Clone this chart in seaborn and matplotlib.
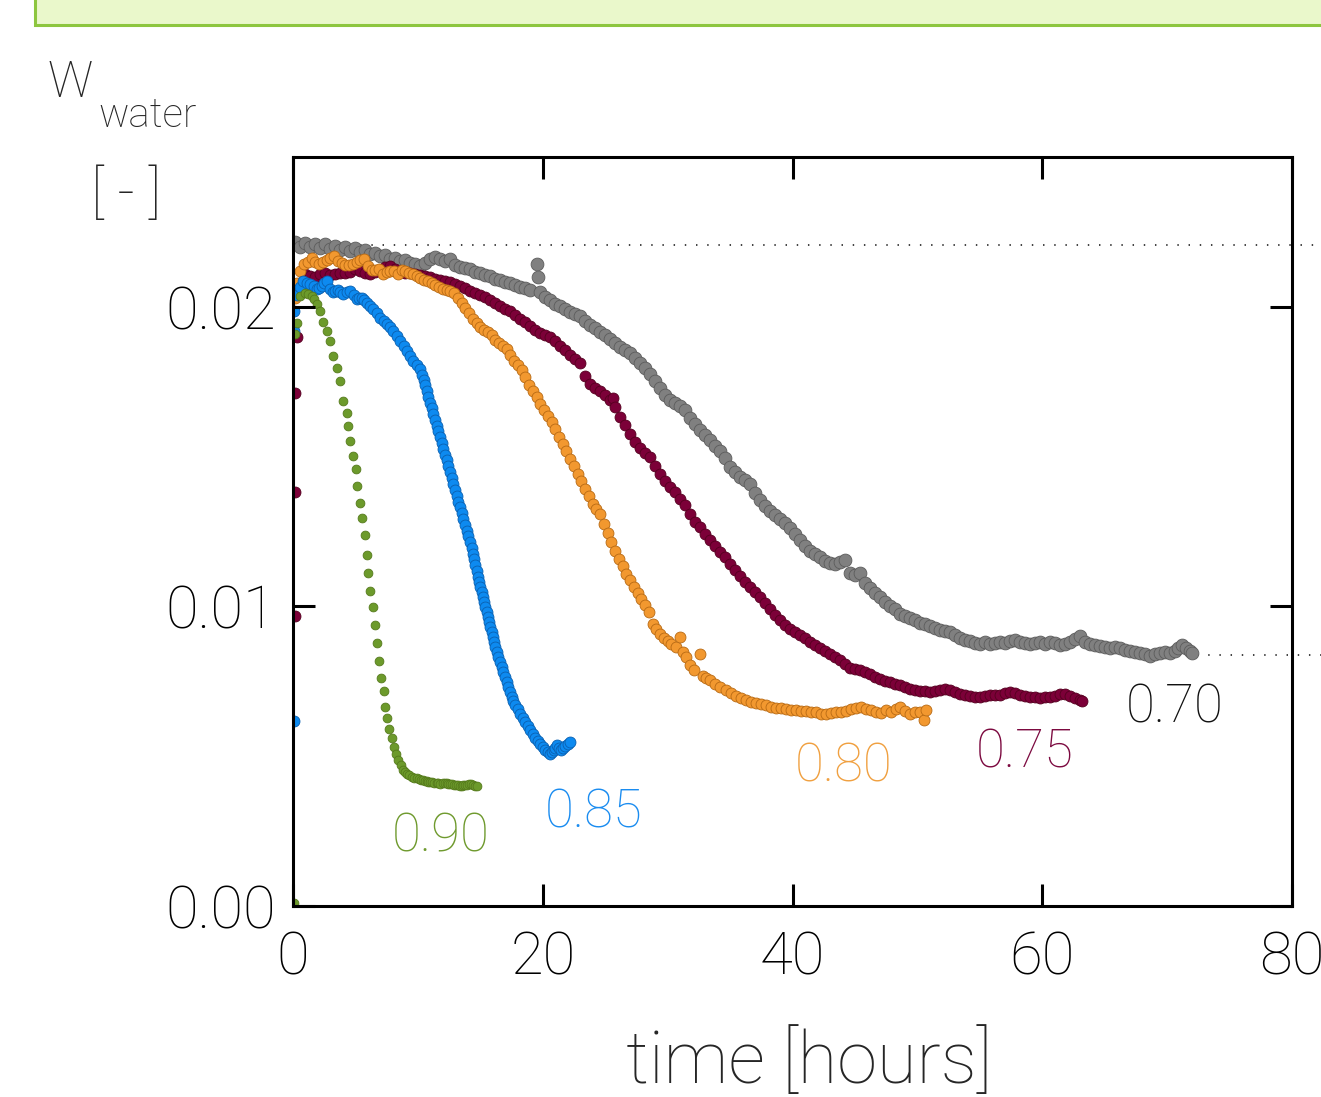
import numpy as np
import pandas as pd
import matplotlib
matplotlib.use("Agg")
import matplotlib.pyplot as plt
from matplotlib.patches import Rectangle
import seaborn as sns

# drying curves: (time [h], w_water [-]), one list per humidity
rh_070 = [(0.2, .02215), (0.6, .02200), (1.0, .02212), (1.4, .02198), (1.8, .02208), (2.2, .02196),
          (2.6, .02210), (3.0, .02192), (3.4, .02204), (3.8, .02188), (4.2, .02200), (4.6, .02186),
          (5.0, .02196), (5.4, .02182), (5.8, .02190), (6.2, .02176), (6.6, .02180), (7.0, .02168),
          (7.4, .02172), (7.8, .02160), (8.2, .02164), (8.6, .02152), (9.0, .02156), (9.4, .02146),
          (9.8, .02144), (10.2, .02136), (10.6, .02146), (11.0, .02158), (11.4, .02166), (11.8, .02158),
          (12.2, .02152), (12.6, .02160), (13.0, .02140), (13.4, .02134), (13.8, .02128), (14.2, .02126),
          (14.6, .02116), (15.0, .02114), (15.4, .02106), (15.8, .02104), (16.2, .02094), (16.6, .02090),
          (17.0, .02084), (17.4, .02078), (17.8, .02074), (18.2, .02066), (18.6, .02062), (19.0, .02055),
          (19.5, .02142), (19.6, .02098), (19.8, .02048), (20.2, .02032), (20.6, .02024), (21.0, .02010),
          (21.4, .02002), (21.8, .01992), (22.2, .01984), (22.6, .01976), (23.0, .01968), (23.4, .01952),
          (23.8, .01940), (24.2, .01928), (24.6, .01915), (25.0, .01905), (25.4, .01893), (25.8, .01880),
          (26.2, .01866), (26.6, .01856), (27.0, .01845), (27.4, .01830), (27.8, .01812), (28.2, .01795),
          (28.6, .01775), (29.0, .01752), (29.4, .01728), (29.8, .01705), (30.2, .01690), (30.6, .01678),
          (31.0, .01670), (31.4, .01656), (31.8, .01630), (32.2, .01608), (32.6, .01588), (33.0, .01572),
          (33.4, .01555), (33.8, .01535), (34.2, .01518), (34.6, .01495), (35.0, .01465), (35.4, .01448),
          (35.8, .01432), (36.2, .01422), (36.6, .01408), (37.0, .01380), (37.4, .01356), (37.8, .01335),
          (38.2, .01320), (38.6, .01305), (39.0, .01292), (39.4, .01280), (39.8, .01262), (40.2, .01240),
          (40.6, .01220), (41.0, .01200), (41.4, .01186), (41.8, .01176), (42.2, .01165), (42.6, .01152),
          (43.0, .01146), (43.4, .01142), (43.8, .01148), (44.2, .01155), (44.6, .01110), (45.0, .01104),
          (45.4, .01110), (45.8, .01078), (46.2, .01060), (46.6, .01046), (47.0, .01030), (47.4, .01015),
          (47.8, .01002), (48.2, .00990), (48.6, .00976), (49.0, .00968), (49.4, .00960), (49.8, .00954),
          (50.2, .00946), (50.6, .00940), (51.0, .00933), (51.4, .00928), (51.8, .00922), (52.2, .00917),
          (52.6, .00913), (53.0, .00903), (53.4, .00894), (53.8, .00888), (54.2, .00884), (54.6, .00879),
          (55.0, .00876), (55.4, .00880), (55.8, .00876), (56.2, .00879), (56.6, .00882), (57.0, .00878),
          (57.4, .00884), (57.8, .00888), (58.2, .00882), (58.6, .00877), (59.0, .00873), (59.4, .00878),
          (59.8, .00882), (60.2, .00876), (60.6, .00882), (61.0, .00878), (61.4, .00872), (61.8, .00876),
          (62.2, .00880), (62.6, .00890), (63.0, .00900), (63.4, .00882), (63.8, .00874), (64.2, .00870),
          (64.6, .00869), (65.0, .00866), (65.4, .00862), (65.8, .00864), (66.2, .00860), (66.6, .00855),
          (67.0, .00852), (67.4, .00849), (67.8, .00846), (68.2, .00840), (68.6, .00836), (69.0, .00842),
          (69.4, .00846), (69.8, .00848), (70.2, .00844), (70.6, .00852), (70.9, .00862), (71.2, .00872),
          (71.5, .00862), (71.8, .00852), (72.0, .00843)]

rh_075 = [(0.15, .00967), (0.15, .01383), (0.15, .01713), (0.3, .01900), (0.6, .02080), (1.0, .02109),
          (1.4, .02102), (1.8, .02100), (2.2, .02110), (2.6, .02114), (3.0, .02105), (3.4, .02110),
          (3.8, .02114), (4.2, .02112), (4.6, .02116), (5.0, .02126), (5.4, .02118), (5.8, .02112),
          (6.2, .02110), (6.6, .02116), (7.0, .02124), (7.4, .02132), (7.8, .02137), (8.2, .02126),
          (8.6, .02118), (9.0, .02114), (9.4, .02112), (9.8, .02110), (10.2, .02106), (10.6, .02103),
          (11.0, .02098), (11.4, .02094), (11.8, .02089), (12.2, .02086), (12.6, .02082), (13.0, .02077),
          (13.4, .02070), (13.8, .02062), (14.2, .02053), (14.6, .02047), (15.0, .02040), (15.4, .02032),
          (15.8, .02022), (16.2, .02011), (16.6, .02002), (17.0, .01993), (17.4, .01987), (17.8, .01972),
          (18.2, .01960), (18.6, .01950), (19.0, .01935), (19.4, .01922), (19.8, .01913), (20.2, .01906),
          (20.6, .01898), (21.0, .01885), (21.4, .01870), (21.8, .01855), (22.2, .01840), (22.6, .01826),
          (23.0, .01813), (23.4, .01770), (23.8, .01742), (24.2, .01728), (24.6, .01720), (25.0, .01705),
          (25.4, .01690), (25.6, .01695), (25.8, .01665), (26.2, .01631), (26.6, .01605), (27.0, .01575),
          (27.4, .01548), (27.8, .01530), (28.2, .01512), (28.6, .01498), (29.0, .01470), (29.4, .01442),
          (29.8, .01420), (30.2, .01400), (30.6, .01382), (31.0, .01360), (31.4, .01337), (31.8, .01308),
          (32.2, .01283), (32.6, .01264), (33.0, .01242), (33.4, .01220), (33.8, .01200), (34.2, .01180),
          (34.6, .01165), (35.0, .01142), (35.4, .01122), (35.8, .01100), (36.2, .01080), (36.6, .01066),
          (37.0, .01048), (37.4, .01030), (37.8, .01012), (38.2, .00990), (38.6, .00970), (39.0, .00953),
          (39.4, .00938), (39.8, .00926), (40.2, .00915), (40.6, .00905), (41.0, .00893), (41.4, .00882),
          (41.8, .00871), (42.2, .00860), (42.6, .00850), (43.0, .00840), (43.4, .00830), (43.8, .00820),
          (44.2, .00808), (44.6, .00795), (45.0, .00792), (45.4, .00788), (45.8, .00782), (46.2, .00776),
          (46.6, .00766), (47.0, .00758), (47.4, .00752), (47.8, .00748), (48.2, .00742), (48.6, .00737),
          (49.0, .00730), (49.4, .00725), (49.8, .00720), (50.2, .00719), (50.6, .00717), (51.0, .00714),
          (51.4, .00716), (51.8, .00720), (52.2, .00724), (52.6, .00722), (53.0, .00714), (53.4, .00709),
          (53.8, .00704), (54.2, .00700), (54.6, .00698), (55.0, .00699), (55.4, .00701), (55.8, .00703),
          (56.2, .00704), (56.6, .00705), (57.0, .00710), (57.4, .00714), (57.8, .00710), (58.2, .00704),
          (58.6, .00700), (59.0, .00698), (59.4, .00696), (59.8, .00695), (60.2, .00697), (60.6, .00698),
          (61.0, .00702), (61.4, .00706), (61.8, .00709), (62.2, .00700), (62.6, .00694), (63.0, .00687),
          (63.2, .00685)]

rh_080 = [(0.15, .02030), (0.3, .02081), (0.6, .02120), (0.9, .02142), (1.2, .02150), (1.5, .02164),
          (1.8, .02150), (2.1, .02142), (2.4, .02148), (2.7, .02155), (3.0, .02162), (3.3, .02170),
          (3.6, .02152), (3.9, .02145), (4.2, .02140), (4.5, .02140), (4.8, .02144), (5.1, .02148),
          (5.4, .02155), (5.7, .02159), (6.0, .02135), (6.3, .02122), (6.6, .02122), (6.9, .02125),
          (7.2, .02109), (7.5, .02116), (7.8, .02120), (8.1, .02118), (8.4, .02110), (8.7, .02124),
          (9.0, .02118), (9.3, .02112), (9.6, .02109), (9.9, .02102), (10.2, .02096), (10.5, .02090),
          (10.8, .02085), (11.1, .02078), (11.4, .02073), (11.7, .02067), (12.0, .02059), (12.3, .02056),
          (12.6, .02052), (12.9, .02045), (13.2, .02030), (13.5, .02012), (13.8, .01997), (14.1, .01978),
          (14.4, .01959), (14.7, .01945), (15.0, .01931), (15.3, .01922), (15.6, .01915), (15.9, .01905),
          (16.2, .01890), (16.5, .01880), (16.8, .01868), (17.1, .01859), (17.4, .01838), (17.7, .01820),
          (18.0, .01806), (18.3, .01790), (18.6, .01765), (18.9, .01740), (19.2, .01718), (19.5, .01698),
          (19.8, .01676), (20.1, .01655), (20.4, .01636), (20.7, .01616), (21.0, .01592), (21.3, .01567),
          (21.6, .01542), (21.9, .01518), (22.2, .01493), (22.5, .01468), (22.8, .01442), (23.1, .01417),
          (23.4, .01392), (23.7, .01367), (24.0, .01342), (24.3, .01325), (24.6, .01309), (24.9, .01275),
          (25.2, .01245), (25.5, .01215), (25.8, .01185), (26.1, .01159), (26.4, .01134), (26.7, .01109),
          (27.0, .01087), (27.3, .01066), (27.6, .01046), (27.9, .01025), (28.2, .01005), (28.5, .00980),
          (28.8, .00942), (29.1, .00925), (29.4, .00909), (29.7, .00895), (30.0, .00886), (30.3, .00876),
          (30.7, .00864), (31.0, .00898), (31.2, .00848), (31.5, .00831), (31.8, .00805), (32.1, .00787),
          (32.6, .00842), (32.8, .00768), (33.1, .00760), (33.4, .00753), (33.8, .00742), (34.2, .00732),
          (34.7, .00720), (35.1, .00710), (35.5, .00700), (35.9, .00693), (36.3, .00687), (36.7, .00682),
          (37.1, .00678), (37.5, .00674), (37.9, .00670), (38.3, .00665), (38.7, .00662), (39.1, .00661),
          (39.5, .00659), (39.9, .00655), (40.3, .00653), (40.7, .00651), (41.1, .00650), (41.5, .00648),
          (41.9, .00646), (42.3, .00642), (42.7, .00640), (43.1, .00643), (43.5, .00646), (43.9, .00648),
          (44.3, .00652), (44.7, .00658), (45.1, .00662), (45.5, .00664), (45.9, .00657), (46.3, .00653),
          (46.7, .00648), (47.1, .00645), (47.5, .00653), (47.9, .00648), (48.3, .00656), (48.6, .00664),
          (49.0, .00650), (49.4, .00642), (49.8, .00646), (50.2, .00648), (50.5, .00620), (50.7, .00653)]

rh_085 = [(0.05, .00617), (0.05, .01920), (0.1, .01987), (0.3, .02040), (0.55, .02065), (0.8, .02087),
          (1.1, .02080), (1.4, .02076), (1.65, .02068), (1.9, .02059), (2.1, .02064), (2.3, .02070),
          (2.5, .02078), (2.7, .02087), (2.95, .02060), (3.2, .02048), (3.4, .02052), (3.6, .02055),
          (3.8, .02048), (4.0, .02042), (4.3, .02048), (4.6, .02053), (4.85, .02040), (5.1, .02026),
          (5.3, .02028), (5.5, .02030), (5.7, .02022), (5.9, .02014), (6.15, .02003), (6.4, .01992),
          (6.7, .01978), (7.0, .01964), (7.25, .01953), (7.5, .01942), (7.75, .01931), (8.0, .01920),
          (8.3, .01904), (8.6, .01887), (8.85, .01870), (9.1, .01853), (9.35, .01836), (9.6, .01820),
          (9.9, .01806), (10.2, .01792), (10.35, .01773), (10.5, .01755), (10.6, .01738), (10.7, .01720),
          (10.85, .01700), (11.0, .01680), (11.1, .01661), (11.2, .01642), (11.35, .01622), (11.5, .01603),
          (11.65, .01584), (11.8, .01564), (11.9, .01545), (12.0, .01525), (12.15, .01506), (12.3, .01487),
          (12.45, .01468), (12.6, .01448), (12.7, .01429), (12.8, .01409), (12.95, .01390), (13.1, .01370),
          (13.25, .01350), (13.4, .01331), (13.5, .01312), (13.6, .01292), (13.75, .01272), (13.9, .01253),
          (14.05, .01234), (14.2, .01215), (14.3, .01196), (14.4, .01176), (14.5, .01157), (14.6, .01137),
          (14.7, .01118), (14.8, .01098), (14.9, .01082), (15.0, .01065), (15.1, .01048), (15.2, .01031),
          (15.3, .01015), (15.4, .00998), (15.5, .00981), (15.6, .00964), (15.7, .00948), (15.8, .00931),
          (15.9, .00915), (16.0, .00898), (16.1, .00882), (16.2, .00865), (16.3, .00848), (16.4, .00831),
          (16.55, .00815), (16.7, .00798), (16.85, .00781), (17.0, .00764), (17.1, .00748), (17.2, .00731),
          (17.35, .00715), (17.5, .00698), (17.65, .00684), (17.8, .00670), (18.0, .00656), (18.2, .00642),
          (18.4, .00628), (18.6, .00614), (18.8, .00600), (19.0, .00587), (19.2, .00575), (19.4, .00562),
          (19.6, .00552), (19.8, .00542), (20.0, .00532), (20.2, .00522), (20.4, .00515), (20.6, .00509),
          (20.75, .00514), (20.9, .00520), (21.0, .00528), (21.1, .00537), (21.3, .00528), (21.5, .00520),
          (21.65, .00528), (21.8, .00535), (22.0, .00542), (22.2, .00548)]

rh_090 = [(0.1, .00010), (0.15, .01910), (0.3, .01945), (0.56, .02037), (0.96, .02047), (1.2, .02044),
          (1.5, .02037), (1.7, .02025), (1.9, .02010), (2.16, .01987), (2.4, .01950), (2.7, .01920),
          (2.96, .01887), (3.2, .01837), (3.5, .01795), (3.76, .01753), (4.0, .01687), (4.3, .01645),
          (4.4, .01603), (4.56, .01553), (4.8, .01503), (5.04, .01458), (5.12, .01403), (5.36, .01345),
          (5.5, .01295), (5.76, .01237), (5.9, .01170), (6.0, .01112), (6.16, .01053), (6.38, .00998),
          (6.56, .00937), (6.7, .00878), (6.88, .00817), (7.06, .00762), (7.26, .00716), (7.38, .00664),
          (7.54, .00628), (7.7, .00591), (7.92, .00562), (8.1, .00531), (8.24, .00509), (8.42, .00489),
          (8.62, .00470), (8.82, .00453), (9.0, .00446), (9.1, .00442), (9.3, .00437), (9.5, .00431),
          (9.7, .00428), (9.9, .00426), (10.1, .00424), (10.25, .00422), (10.4, .00420), (10.55, .00418),
          (10.7, .00417), (10.85, .00415), (11.0, .00414), (11.15, .00413), (11.3, .00412), (11.5, .00411),
          (11.65, .00410), (11.8, .00408), (12.0, .00409), (12.15, .00410), (12.3, .00410), (12.45, .00408),
          (12.6, .00407), (12.75, .00406), (12.9, .00405), (13.05, .00404), (13.2, .00403), (13.35, .00402),
          (13.5, .00402), (13.65, .00403), (13.8, .00404), (13.95, .00405), (14.1, .00406), (14.25, .00407),
          (14.4, .00404), (14.55, .00402), (14.7, .00401)]

labels = ["0.70", "0.75", "0.80", "0.85", "0.90"]
label_x = [70.6, 58.6, 44.1, 24.1, 11.8]
label_y = [0.00613, 0.00463, 0.00417, 0.00263, 0.00183]

plateau_start = 0.02207
plateau_end = 0.00837

face = ["#808080", "#7c0038", "#f2982f", "#0d8af0", "#6c9a2b"]
edge = ["#5c5c5c", "#55001f", "#b86a14", "#0a60b0", "#557a1c"]
text_col = ["#111111", "#7c0a40", "#f0a040", "#1a8cf0", "#6f9a2e"]
sizes = [85, 62, 62, 62, 40]

series = [rh_070, rh_075, rh_080, rh_085, rh_090]

sns.set_style("white")
plt.rcParams["font.family"] = ["Roboto", "DejaVu Sans"]
plt.rcParams["font.weight"] = "light"
plt.rcParams.update({
    "xtick.bottom": True, "xtick.top": True, "ytick.left": True, "ytick.right": True,
    "xtick.direction": "in", "ytick.direction": "in",
    "xtick.major.size": 16, "ytick.major.size": 16,
    "xtick.major.width": 2.2, "ytick.major.width": 2.2,
    "xtick.color": "black", "ytick.color": "black",
})

fig = plt.figure(figsize=(13.21, 10.97), dpi=100)
ax = fig.add_axes([0.2218, 0.1741, 0.7563, 0.6828])

# green banner at top
fig.patches.append(Rectangle((0.0265, 0.9772), 1.0, 0.06, transform=fig.transFigure,
                             facecolor="#eaf8cb", edgecolor="#8dc63f", linewidth=2.2))

ax.plot([0, 82.6], [plateau_start, plateau_start], color="#333333", lw=1.3,
        linestyle=(0, (0.8, 5.4)), clip_on=False, zorder=1)
ax.plot([72.4, 82.6], [plateau_end, plateau_end], color="#333333", lw=1.3,
        linestyle=(0, (0.8, 5.4)), clip_on=False, zorder=1)

for i, pts in enumerate(series):
    df = pd.DataFrame(pts, columns=["time", "w"])
    sns.scatterplot(data=df, x="time", y="w", ax=ax, color=face[i], edgecolor=edge[i],
                    linewidth=0.6, s=sizes[i], zorder=3 + i, legend=False)
    ax.text(label_x[i], label_y[i], labels[i], color=text_col[i], fontsize=38,
            ha="center", va="baseline")

ax.set_xlim(0, 80)
ax.set_ylim(0, 0.025)
ax.set_xticks([0, 20, 40, 60, 80])
ax.set_yticks([0.0, 0.01, 0.02])
ax.set_yticklabels(["0.00", "0.01", "0.02"])
ax.set_xlabel("")
ax.set_ylabel("")
ax.tick_params(direction="in", length=16, width=2.2, top=True, right=True, bottom=True,
               left=True, labelsize=43, color="black", labelcolor="black")
ax.tick_params(axis="x", pad=17)
ax.tick_params(axis="y", pad=12)
for sp in ax.spines.values():
    sp.set_linewidth(2.2)
    sp.set_color("black")
    sp.set_zorder(20)
# ticks drawn over the dots
ax.xaxis.set_zorder(20)
ax.yaxis.set_zorder(20)

fig.text(0.6124, 0.0125, "time [hours]", fontsize=52, ha="center", va="baseline")
fig.text(0.0363, 0.9116, "W", fontsize=36, ha="left", va="baseline")
fig.text(0.0742, 0.8842, "water", fontsize=29, ha="left", va="baseline")
fig.text(0.0954, 0.8222, "[ - ]", fontsize=42, ha="center", va="center")

fig.savefig("out.png", dpi=100)
